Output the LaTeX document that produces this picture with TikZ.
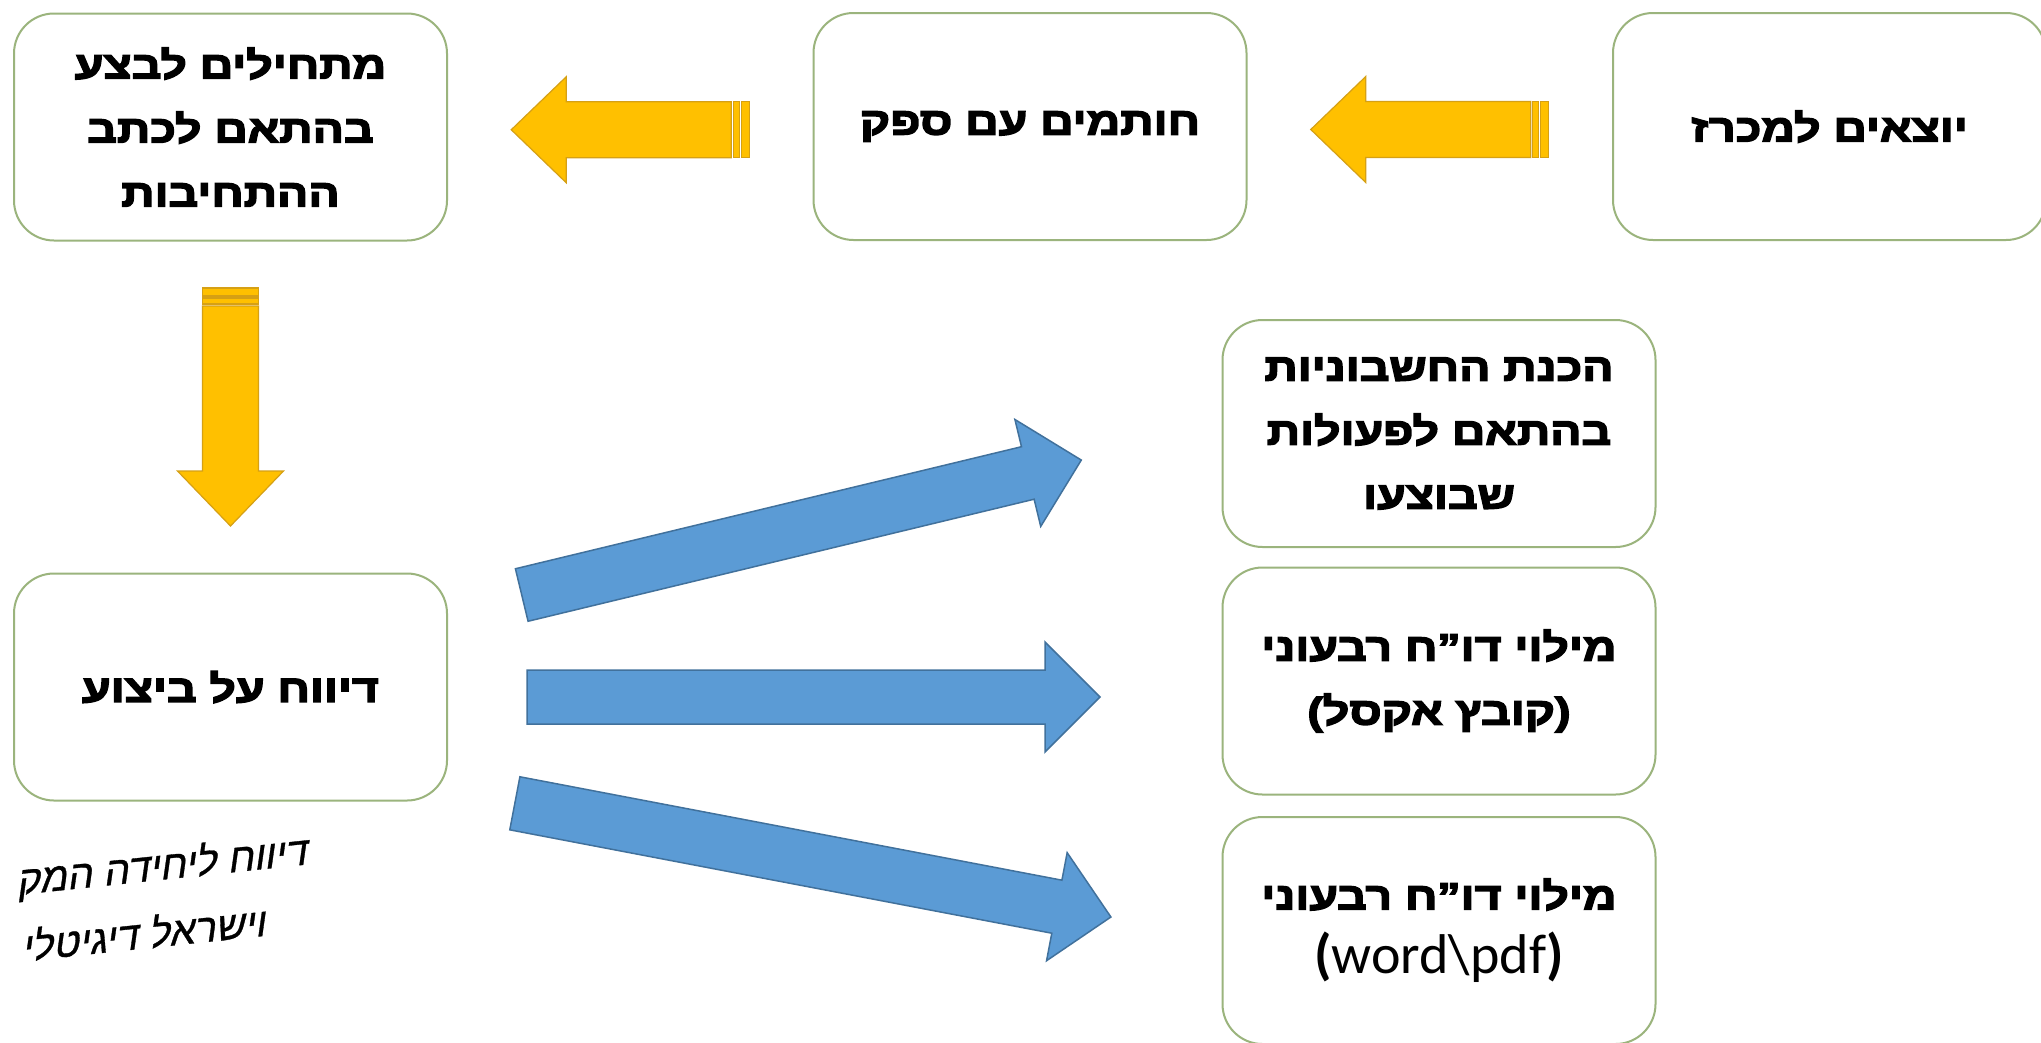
\documentclass[tikz,border=0pt]{standalone}
\usepackage{fontspec}
\usetikzlibrary{calc}
\TeXXeTstate=1
\newfontfamily\hebb{Liberation Sans Bold}[Script=Hebrew,FakeBold=4,FakeStretch=1.22]
\newfontfamily\hand{Liberation Sans}[Script=Hebrew,FakeSlant=0.25,FakeBold=0.8]
\newfontfamily\carl{Carlito}
\newcommand\RL[1]{\beginR #1\endR}
\definecolor{boxc}{RGB}{155,180,125}
\definecolor{goldf}{RGB}{255,192,0}
\definecolor{goldd}{RGB}{214,160,20}
\definecolor{bluef}{RGB}{91,155,213}
\definecolor{blued}{RGB}{65,113,156}
\tikzset{
  box/.style={draw=boxc, line width=2pt, rounded corners=40pt, fill=white,
    minimum width=433pt, minimum height=227pt, inner sep=0pt, align=center,
    font=\hebb\fontsize{38}{64}\selectfont},
  yarrow/.style={fill=goldf, draw=goldd, line width=1.2pt, line join=miter},
  barrow/.style={fill=bluef, draw=blued, line width=1.5pt, line join=miter},
  handtxt/.style={font=\hand\fontsize{40}{44}\selectfont, inner sep=0pt, anchor=east, rotate=6}
}
\newcommand\YArrow[2]{%
  \begin{scope}[shift={#1},rotate=#2]
    \filldraw[yarrow] (-101,-28) -- (64,-28) -- (64,-53) -- (119,0) -- (64,53) -- (64,28) -- (-101,28) -- cycle;
    \filldraw[yarrow] (-109,-28) rectangle (-103,28);
    \filldraw[yarrow] (-119,-28) rectangle (-111,28);
  \end{scope}}
\newcommand\BArrow[3]{%
  \begin{scope}[shift={#1},rotate=#2]
    \filldraw[barrow] (0,-27) -- ({#3-55},-27) -- ({#3-55},-55) -- (#3,0) -- ({#3-55},55) -- ({#3-55},27) -- (0,27) -- cycle;
  \end{scope}}
\begin{document}
\begin{tikzpicture}[x=1pt,y=-1pt]
\useasboundingbox (0,0) rectangle (2041,1042);
\fill[white] (0,0) rectangle (2041,1042);
\clip (0,0) rectangle (2041,1042);

\node[box] (tr) at (1829.5,126.5) {\RL{יוצאים למכרז}};
\node[box] (tm) at (1030,126.5) {\RL{חותמים עם ספק}};
\node[box] (tl) at (230.5,127) {\RL{מתחילים לבצע}\\\RL{בהתאם לכתב}\\\RL{ההתחיבות}};
\node[box] (ml) at (230.5,687) {\RL{דיווח על ביצוע}};
\node[box] (r1) at (1439,433.5) {\RL{הכנת החשבוניות}\\\RL{בהתאם לפעולות}\\\RL{שבוצעו}};
\node[box] (r2) at (1439,681) {\RL{מילוי דו”ח רבעוני}\\\RL{(קובץ אקסל)}};
\node[box] (r3) at (1439,930.5) {\RL{מילוי דו”ח רבעוני}\\{\carl\fontsize{56}{64}\selectfont{\bfseries(}word\textbackslash pdf{\bfseries)}}};

\path (tm.west) -- (tl.east) coordinate[midway] (y1);
\path (tr.west) -- (tm.east) coordinate[midway] (y2);
\path (tl.south) -- (ml.north) coordinate[midway] (y3);
\coordinate (y1s) at ($(y1)+(0,3)$);
\coordinate (y2s) at ($(y2)+(0,3)$);
\YArrow{(y1s)}{180}
\YArrow{(y2s)}{180}
\YArrow{(y3)}{-90}

\coordinate (b1) at (521.75,595);
\coordinate (b2) at (527,697);
\coordinate (b3) at (514.85,803.3);
\BArrow{(b1)}{13.56}{575.6}
\BArrow{(b2)}{0}{573}
\BArrow{(b3)}{-10.8}{606.8}

\node[handtxt] (h1) at (306,852) {\RL{דיווח ליחידה המק}};
\node[handtxt] (h2) at (264,920) {\RL{וישראל דיגיטלי}};
\end{tikzpicture}
\end{document}
